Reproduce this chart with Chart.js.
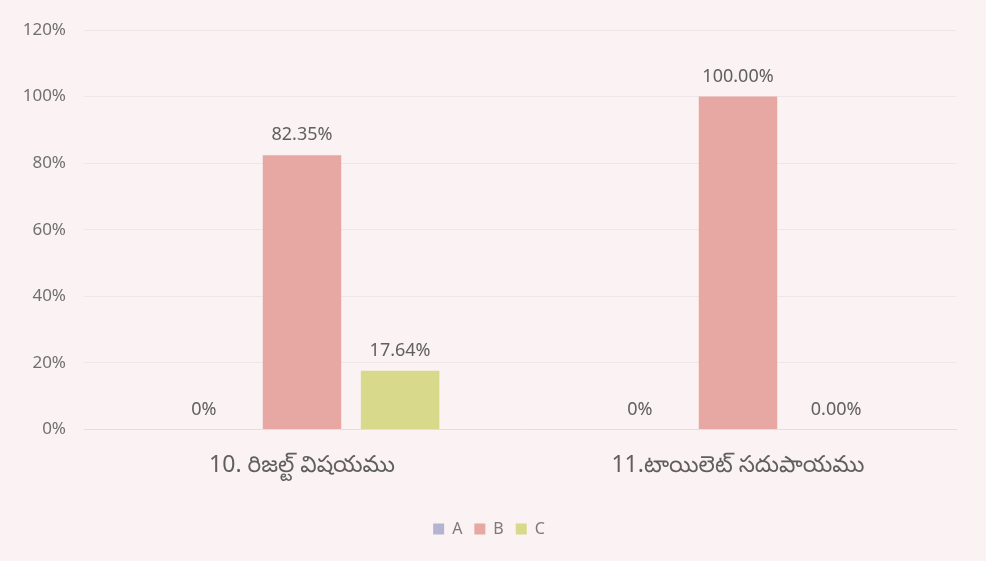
<!DOCTYPE html>
<html>
<head>
<meta charset="utf-8">
<script src="https://cdn.jsdelivr.net/npm/chart.js@4/dist/chart.umd.min.js"></script>
<style>
  html, body { margin: 0; padding: 0; background: #fbf2f4; }
  #wrap { width: 986px; height: 561px; }
</style>
</head>
<body>
<div id="wrap"><canvas id="chart"></canvas></div>
<script>
// ---- data ----
const categories = ["10. రిజల్ట్ విషయము", "11.టాయిలెట్ సదుపాయము"];
const seriesNames = ["A", "B", "C"];
const valuesA = [0, 0];
const valuesB = [82.35, 100];
const valuesC = [17.64, 0];
const labelsA = ["0%", "0%"];
const labelsB = ["82.35%", "100.00%"];
const labelsC = ["17.64%", "0.00%"];
const yTicks = [0, 20, 40, 60, 80, 100, 120];

const colors = ["#b4b4d2", "#e7a7a3", "#d9d98b"];
const FONT = "'Noto Sans', 'Noto Sans Telugu', 'DejaVu Sans', sans-serif";

// draws the value text above each bar (no datalabels plugin available)
const valueLabels = {
  id: "valueLabels",
  afterDatasetsDraw(chart) {
    const ctx = chart.ctx;
    ctx.save();
    ctx.font = "18px " + FONT;
    ctx.fillStyle = "#606060";
    ctx.textAlign = "center";
    ctx.textBaseline = "bottom";
    chart.data.datasets.forEach((ds, i) => {
      chart.getDatasetMeta(i).data.forEach((bar, j) => {
        ctx.fillText(ds.valueText[j], bar.x, bar.y - 11);
      });
    });
    ctx.restore();
  }
};

new Chart(document.getElementById("chart"), {
  type: "bar",
  data: {
    labels: categories,
    datasets: [
      { label: seriesNames[0], data: valuesA, valueText: labelsA, backgroundColor: colors[0] },
      { label: seriesNames[1], data: valuesB, valueText: labelsB, backgroundColor: colors[1] },
      { label: seriesNames[2], data: valuesC, valueText: labelsC, backgroundColor: colors[2] },
    ],
  },
  options: {
    responsive: true,
    maintainAspectRatio: false,
    animation: false,
    layout: { padding: { left: 22, right: 30, top: 30, bottom: 14 } },
    datasets: { bar: { categoryPercentage: 0.675, barPercentage: 0.8 } },
    plugins: {
      tooltip: { enabled: false },
      legend: {
        position: "bottom",
        labels: {
          boxWidth: 11, boxHeight: 11, padding: 12,
          color: "#7a7a7a",
          font: { size: 16, family: FONT },
        },
      },
    },
    scales: {
      x: {
        grid: { display: false },
        border: { display: true, color: "#e6dde0" },
        ticks: { color: "#5f5f5f", padding: 14, font: { size: 23, family: FONT } },
        afterFit: axis => { axis.height += 16; },
      },
      y: {
        min: 0, max: 120,
        afterBuildTicks: axis => { axis.ticks = yTicks.map(v => ({ value: v })); },
        afterFit: axis => { axis.width = 62; },
        grid: { color: "#efe6e9", drawTicks: false },
        border: { display: false },
        ticks: {
          color: "#707070", padding: 18,
          font: { size: 17, family: FONT },
          callback: v => v + "%",
        },
      },
    },
  },
  plugins: [valueLabels],
});
</script>
</body>
</html>
